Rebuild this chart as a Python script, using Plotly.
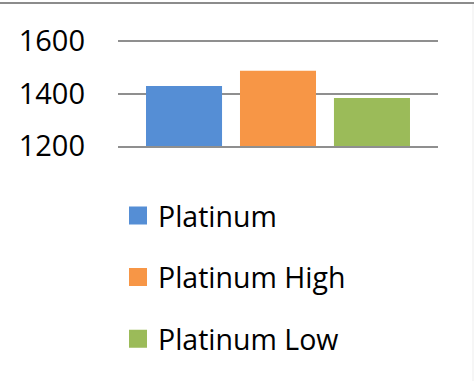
import plotly.graph_objects as go

# Series shown as one cluster of bars
series_names = ["Platinum", "Platinum High", "Platinum Low"]
series_values = [1429, 1487, 1383]
series_colors = ["#558ED5", "#F79646", "#9BBB59"]
category = ["Platinum"]

tick_values = [1200, 1400, 1600]
tick_labels = ["1200", "1400", "1600"]
y_range = [1200, 1608]

W, H = 474, 381
M_L, M_R, M_T, M_B = 118, 36, 39, 235
plot_w = W - M_L - M_R
plot_h = H - M_T - M_B

fig = go.Figure()

for name, val, col in zip(series_names, series_values, series_colors):
    fig.add_trace(go.Bar(
        x=category, y=[val], name=name,
        marker=dict(color=col, line=dict(width=0)),
        showlegend=False,
    ))

# Legend entries with larger square swatches (no visible points)
for i, (name, col) in enumerate(zip(series_names, series_colors)):
    fig.add_trace(go.Scatter(
        x=category, y=[None], name=name, mode="markers",
        marker=dict(symbol="square", size=16, color=col,
                    line=dict(color=col, width=2)),
        legendgroup=f"g{i}", hoverinfo="skip",
    ))

# frame edges of the chart area
def px_x(p):
    return (p - M_L) / plot_w

def px_y(p):
    return (H - M_B - p) / plot_h

shapes = [
    dict(type="line", xref="paper", yref="paper",
         x0=px_x(0), x1=px_x(W), y0=px_y(3), y1=px_y(3),
         line=dict(color="#8C8C8C", width=2)),
    dict(type="line", xref="paper", yref="paper",
         x0=px_x(473), x1=px_x(473), y0=px_y(4), y1=px_y(H),
         line=dict(color="#EDEDED", width=1)),
]

fig.update_layout(
    width=W, height=H,
    margin=dict(l=M_L, r=M_R, t=M_T, b=M_B, pad=0, autoexpand=False),
    paper_bgcolor="white", plot_bgcolor="white",
    barmode="group", bargap=0.119, bargroupgap=0.191,
    font=dict(family="Open Sans", color="#000000"),
    xaxis=dict(type="category", range=[-0.5, 0.5], automargin=False,
               fixedrange=True, showticklabels=False, ticks="",
               showgrid=False, zeroline=False,
               showline=True, linecolor="#8F8F8F", linewidth=1.5),
    yaxis=dict(
        range=y_range, tickvals=tick_values, ticktext=tick_labels,
        showgrid=True, gridcolor="#8F8F8F", gridwidth=1.5,
        zeroline=False, showline=False, ticks="",
        tickfont=dict(size=29, color="#000000"),
        ticklabelstandoff=32, automargin=False, fixedrange=True,
    ),
    legend=dict(
        xref="container", yref="container",
        x=118 / W, y=1 - 190.5 / H, xanchor="left", yanchor="top",
        font=dict(size=28.5, color="#000000"),
        tracegroupgap=21.5, bgcolor="rgba(0,0,0,0)",
        itemclick=False, itemdoubleclick=False,
    ),
    shapes=shapes,
)

fig.write_html("out.html")
